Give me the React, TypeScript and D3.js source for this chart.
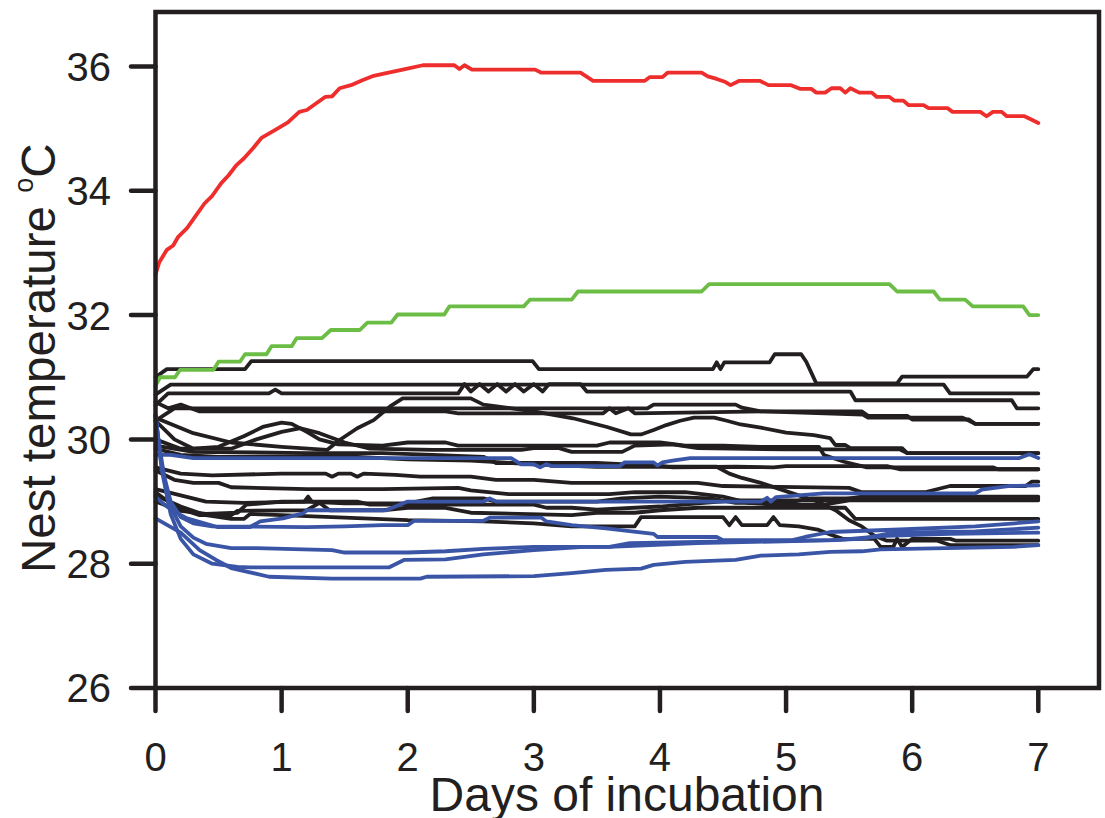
import React from "react";
import * as d3 from "d3";

type Pt = [number, number];

const xTicks = [0, 1, 2, 3, 4, 5, 6, 7];
const yTicks = [26, 28, 30, 32, 34, 36];
const xTitle = "Days of incubation";
const yTitle = "Nest temperature ";

// Red nest
const redNest: Pt[] = [[0,32.65],[0.03,32.85],[0.09,33.05],[0.14,33.12],[0.18,33.26],[0.25,33.4],[0.32,33.6],[0.39,33.8],[0.45,33.92],[0.52,34.12],[0.58,34.25],[0.64,34.41],[0.7,34.52],[0.775,34.69],[0.84,34.85],[0.95,34.98],[1.05,35.1],[1.14,35.27],[1.2,35.3],[1.345,35.51],[1.4,35.52],[1.46,35.65],[1.55,35.7],[1.64,35.78],[1.73,35.85],[1.82,35.89],[1.96,35.95],[2.12,36.02],[2.37,36.02],[2.41,35.96],[2.45,36.02],[2.51,35.95],[3.01,35.95],[3.06,35.9],[3.37,35.9],[3.47,35.77],[3.88,35.77],[3.92,35.83],[4.02,35.83],[4.06,35.9],[4.33,35.9],[4.38,35.84],[4.45,35.8],[4.52,35.75],[4.56,35.7],[4.63,35.77],[4.79,35.77],[4.86,35.7],[5.04,35.7],[5.11,35.64],[5.2,35.64],[5.24,35.58],[5.31,35.58],[5.36,35.65],[5.43,35.65],[5.47,35.58],[5.51,35.65],[5.58,35.58],[5.68,35.58],[5.72,35.51],[5.82,35.51],[5.86,35.45],[5.93,35.45],[5.97,35.38],[6.09,35.38],[6.13,35.33],[6.28,35.33],[6.32,35.27],[6.54,35.27],[6.59,35.2],[6.64,35.27],[6.71,35.27],[6.75,35.2],[6.89,35.2],[6.94,35.15],[7,35.09]];

// Green nest
const greenNest: Pt[] = [[0,30.86],[0.036,31.0],[0.155,31.0],[0.195,31.12],[0.46,31.12],[0.5,31.25],[0.67,31.25],[0.71,31.37],[0.88,31.37],[0.92,31.5],[1.08,31.5],[1.12,31.63],[1.32,31.63],[1.39,31.76],[1.62,31.76],[1.68,31.88],[1.87,31.88],[1.92,32.01],[2.29,32.01],[2.33,32.14],[2.92,32.14],[2.97,32.25],[3.3,32.25],[3.35,32.38],[4.33,32.38],[4.39,32.5],[5.82,32.5],[5.88,32.38],[6.17,32.38],[6.22,32.25],[6.42,32.25],[6.48,32.14],[6.88,32.14],[6.93,32.0],[7,32.0]];

// Black nests
const black1: Pt[] = [[0,31.0],[0.09,31.13],[0.71,31.13],[0.76,31.26],[2.99,31.26],[3.04,31.13],[4.42,31.13],[4.45,31.24],[4.48,31.13],[4.51,31.24],[4.87,31.24],[4.91,31.37],[5.12,31.37],[5.16,31.25],[5.24,30.9],[5.88,30.9],[5.92,31.01],[6.91,31.01],[6.96,31.13],[7,31.13]];
const black2: Pt[] = [[0,30.72],[0.12,30.88],[6.25,30.88],[6.3,30.74],[7,30.74]];
const black3: Pt[] = [[0,30.55],[0.1,30.74],[0.9,30.74],[0.95,30.8],[1.0,30.74],[2.4,30.74],[2.45,30.89],[2.5,30.77],[2.57,30.89],[2.64,30.77],[2.71,30.89],[2.78,30.77],[2.85,30.89],[2.92,30.77],[3.0,30.89],[3.07,30.77],[3.12,30.89],[3.37,30.89],[3.42,30.77],[5.51,30.77],[5.55,30.63],[6.79,30.63],[6.83,30.5],[7,30.5]];
const black4: Pt[] = [[0,30.3],[0.15,30.5],[3.9,30.5],[3.95,30.56],[4.6,30.56],[4.65,30.51],[4.8,30.45],[5.6,30.45],[5.65,30.38],[5.96,30.38],[6.0,30.32],[6.45,30.32],[6.5,30.25],[7,30.25]];
const black5: Pt[] = [[0,30.6],[0.1,30.5],[0.2,30.56],[0.28,30.5],[0.35,30.45],[2.3,30.45],[2.4,30.42],[3.55,30.42],[3.6,30.5],[3.65,30.42],[3.75,30.5],[3.8,30.42],[4.82,30.45],[5.61,30.4],[5.65,30.35],[6.4,30.35],[6.5,30.25],[7,30.25]];
const black6: Pt[] = [[0,30.35],[0.3,30.1],[0.6,29.95],[1.0,29.88],[1.36,29.83],[1.46,29.99],[1.6,30.18],[1.73,30.31],[1.86,30.53],[1.96,30.66],[2.5,30.66],[2.6,30.56],[3.0,30.45],[3.31,30.34],[3.58,30.2],[3.77,30.08],[3.85,30.08],[3.95,30.15],[4.05,30.23],[4.16,30.3],[4.27,30.35],[4.43,30.35],[4.53,30.3],[4.64,30.24],[4.8,30.19],[5.0,30.11],[5.22,30.07],[5.35,30.02],[5.39,29.91],[5.47,29.91],[5.51,29.86],[5.92,29.86],[5.96,29.78],[7,29.78]];
const black7: Pt[] = [[0,30.3],[0.15,30.0],[0.3,29.85],[0.5,29.88],[0.7,30.05],[0.85,30.2],[1.0,30.27],[1.08,30.25],[1.2,30.12],[1.3,30.0],[1.45,29.92],[1.8,29.9],[2.0,29.95],[2.3,29.95],[2.4,29.9],[3.5,29.9],[3.6,29.95],[4.0,29.95],[4.2,29.9],[4.5,29.9],[4.8,29.88],[5.26,29.88],[5.3,29.75],[5.46,29.64],[5.64,29.55],[6.64,29.55],[6.68,29.52],[7,29.52]];
const black8: Pt[] = [[0,30.0],[0.2,29.85],[0.6,29.85],[0.8,30.0],[1.0,30.12],[1.15,30.18],[1.3,30.1],[1.5,29.95],[1.7,29.85],[2.2,29.83],[2.9,29.83],[3.0,29.86],[3.2,29.86],[3.3,29.8],[3.7,29.8],[3.8,29.9],[4.1,29.92],[4.3,29.86],[5.0,29.84],[5.9,29.84],[5.96,29.78],[7,29.78]];
const black9: Pt[] = [[0,29.9],[0.3,29.8],[1.2,29.78],[1.8,29.78],[2.2,29.75],[2.6,29.72],[2.7,29.62],[3.5,29.62],[3.7,29.6],[3.9,29.6],[4.1,29.55],[4.6,29.56],[4.9,29.55],[5.0,29.57],[5.8,29.57],[5.9,29.52],[7,29.52]];
const black10: Pt[] = [[0,29.85],[0.2,29.75],[0.5,29.72],[1.6,29.72],[2.0,29.68],[2.5,29.66],[3.0,29.6],[3.5,29.56],[4.45,29.56],[4.55,29.45],[4.65,29.38],[4.8,29.3],[4.95,29.2],[5.1,29.1],[5.25,29.0],[5.4,28.85],[5.5,28.7],[5.6,28.6],[5.7,28.45],[5.8,28.37],[6.2,28.37],[6.3,28.3],[7,28.3]];
const black11: Pt[] = [[0,29.55],[0.2,29.45],[0.45,29.42],[1.0,29.45],[1.35,29.45],[1.4,29.4],[1.45,29.45],[1.55,29.45],[1.6,29.4],[1.65,29.45],[1.9,29.43],[2.1,29.4],[2.5,29.4],[2.7,29.35],[3.0,29.35],[3.3,29.3],[4.3,29.3],[4.5,29.25],[5.5,29.22],[5.6,29.15],[6.1,29.15],[6.3,29.25],[6.9,29.25],[6.95,29.32],[7,29.32]];
const black12: Pt[] = [[0,29.2],[0.2,29.1],[0.4,29.0],[0.7,28.98],[1.2,29.0],[1.5,28.97],[2.0,28.97],[2.2,29.05],[2.6,29.05],[2.7,29.0],[3.5,29.0],[3.7,29.05],[4.0,29.08],[4.4,29.05],[4.6,28.98],[5.0,28.98],[5.2,29.05],[7,29.05]];
const black13: Pt[] = [[0,29.5],[0.15,29.35],[0.3,29.3],[0.5,29.3],[0.6,29.23],[1.2,29.2],[1.8,29.2],[2.4,29.22],[2.5,29.18],[2.8,29.12],[3.6,29.12],[3.8,29.15],[4.2,29.15],[4.5,29.08],[4.7,28.98],[4.9,28.95],[5.3,28.95],[5.5,29.02],[7,29.02]];
const black14: Pt[] = [[0,29.0],[0.2,28.85],[0.4,28.8],[0.65,28.82],[0.72,28.95],[1.0,29.0],[1.18,29.0],[1.21,29.08],[1.24,29.0],[1.6,29.0],[1.7,28.95],[3.0,28.95],[3.1,28.9],[3.3,28.9],[3.5,28.87],[4.0,28.92],[4.3,28.97],[4.6,29.02],[5.4,29.02],[5.6,29.08],[7,29.08]];
const black15: Pt[] = [[0,29.15],[0.1,29.0],[0.2,28.88],[0.35,28.78],[0.6,28.78],[0.65,28.85],[1.2,28.86],[1.3,28.98],[1.38,28.86],[1.8,28.86],[2.0,28.9],[2.3,28.9],[2.5,28.82],[3.3,28.78],[3.5,28.82],[3.8,28.82],[4.0,28.86],[4.3,28.9],[5.3,28.9],[5.47,28.9],[5.55,28.72],[7,28.72]];
const black16: Pt[] = [[0,29.1],[0.2,28.92],[0.4,28.78],[0.6,28.72],[0.7,28.72],[0.75,28.8],[1.0,28.78],[1.5,28.74],[2.0,28.7],[2.6,28.68],[3.0,28.65],[3.3,28.6],[3.8,28.6],[3.85,28.75],[4.5,28.75],[4.55,28.62],[4.6,28.75],[4.65,28.62],[4.85,28.62],[4.9,28.75],[4.95,28.62],[5.1,28.6],[5.25,28.55],[5.35,28.47],[5.45,28.4],[5.7,28.4],[5.75,28.27],[5.85,28.27],[5.88,28.4],[5.92,28.27],[6.0,28.4],[6.3,28.4],[6.35,28.37],[7,28.37]];

// Blue nests
const blue1: Pt[] = [[0,29.75],[0.12,29.75],[0.3,29.7],[2.82,29.7],[2.9,29.6],[3.0,29.6],[3.05,29.55],[3.1,29.6],[3.14,29.57],[3.68,29.57],[3.72,29.63],[3.95,29.63],[3.98,29.58],[4.02,29.63],[4.1,29.66],[4.24,29.7],[6.85,29.7],[6.93,29.76],[7,29.7]];
const blue2: Pt[] = [[0,29.08],[0.07,28.95],[0.14,28.85],[0.25,28.73],[0.49,28.59],[0.75,28.59],[0.83,28.68],[1.01,28.73],[1.17,28.81],[1.2,28.86],[1.83,28.86],[1.96,28.97],[2.0,29.0],[2.6,29.0],[2.65,29.05],[2.7,29.0],[4.8,29.0],[4.85,29.06],[4.88,29.0],[4.92,29.07],[5.3,29.13],[6.5,29.13],[6.55,29.19],[6.76,29.25],[7,29.26]];
const blue3: Pt[] = [[0,30.39],[0.03,29.9],[0.07,29.4],[0.12,29.0],[0.2,28.75],[0.3,28.65],[0.45,28.6],[1.2,28.59],[1.5,28.6],[1.8,28.62],[2.0,28.62],[2.05,28.69],[2.6,28.69],[2.65,28.74],[3.06,28.74],[3.1,28.68],[3.3,28.62],[3.57,28.57],[3.69,28.54],[3.95,28.48],[3.98,28.43],[4.45,28.43],[4.5,28.38],[5.05,28.38],[5.15,28.43],[5.35,28.51],[5.9,28.55],[6.5,28.6],[7,28.68]];
const blue4: Pt[] = [[0,30.39],[0.04,29.7],[0.1,29.0],[0.2,28.6],[0.3,28.42],[0.4,28.32],[0.6,28.25],[0.8,28.25],[1.4,28.22],[1.5,28.18],[2.0,28.18],[2.3,28.2],[2.6,28.24],[3.0,28.27],[3.6,28.27],[3.76,28.33],[4.3,28.35],[5.35,28.38],[5.6,28.4],[5.85,28.5],[6.5,28.52],[7,28.58]];
const blue5: Pt[] = [[0,30.39],[0.05,29.5],[0.12,28.8],[0.2,28.4],[0.3,28.15],[0.45,28.0],[0.65,27.95],[0.75,27.94],[1.85,27.94],[1.97,28.06],[2.3,28.07],[2.6,28.15],[3.0,28.22],[3.4,28.27],[3.6,28.27],[4.3,28.33],[5.4,28.38],[5.8,28.45],[6.3,28.48],[7,28.5]];
const blue6: Pt[] = [[0,28.73],[0.2,28.5],[0.35,28.22],[0.48,28.06],[0.6,27.93],[0.9,27.79],[1.4,27.76],[2.1,27.76],[2.15,27.79],[3.0,27.8],[3.3,27.85],[3.57,27.9],[3.85,27.92],[3.95,27.98],[4.2,28.03],[4.6,28.06],[4.8,28.13],[5.1,28.15],[5.35,28.19],[5.6,28.2],[5.75,28.23],[6.8,28.27],[7,28.3]];

const blackNests = [black1, black2, black3, black4, black5, black6, black7, black8, black9, black10, black11, black12, black13, black14, black15, black16];
const blueNests = [blue1, blue2, blue3, blue4, blue5, blue6];

const W = 1105;
const H = 818;
const INK = "#231f20";
const FONT = "'Liberation Sans', Arial, Helvetica, sans-serif";

export default function App() {
  const x = d3.scaleLinear().domain([0, 7]).range([155.5, 1038.3]);
  const y = d3.scaleLinear().domain([26, 36]).range([688, 66.5]);
  const frameLeft = 155.5, frameRight = 1099, frameTop = 12, frameBottom = 688;
  const line = d3.line<Pt>().x((d) => x(d[0])).y((d) => y(d[1]));

  return (
    <svg width={W} height={H} style={{ position: "absolute", left: 0, top: 0, background: "#fff" }} fontFamily={FONT}>
      <rect x={0} y={0} width={W} height={H} fill="#fff" />
      <g fill="none" strokeLinejoin="round" strokeLinecap="round">
        {blackNests.map((s, i) => (
          <path key={"k" + i} d={line(s) || ""} stroke={INK} strokeWidth={3.8} />
        ))}
        {blueNests.map((s, i) => (
          <path key={"b" + i} d={line(s) || ""} stroke="#3a55a6" strokeWidth={3.8} />
        ))}
        <path d={line(greenNest) || ""} stroke="#6cbd45" strokeWidth={3.8} />
        <path d={line(redNest) || ""} stroke="#ee2d2d" strokeWidth={3.8} />
      </g>
      <path
        d={`M${frameLeft},${frameTop}H${frameRight}V${frameBottom}H${frameLeft}Z`}
        fill="none"
        stroke={INK}
        strokeWidth={4.5}
        strokeLinejoin="miter"
      />
      {yTicks.map((t) => (
        <g key={"y" + t}>
          <line x1={131} x2={frameLeft} y1={y(t)} y2={y(t)} stroke={INK} strokeWidth={4.5} strokeLinecap="round" />
          <text x={111} y={y(t)} dy="0.36em" textAnchor="end" fontSize={40} fill={INK}>
            {t}
          </text>
        </g>
      ))}
      {xTicks.map((t) => (
        <g key={"x" + t}>
          <line x1={x(t)} x2={x(t)} y1={frameBottom} y2={711} stroke={INK} strokeWidth={4.5} strokeLinecap="round" />
          <text x={x(t)} y={771} textAnchor="middle" fontSize={40} fill={INK}>
            {t}
          </text>
        </g>
      ))}
      <text x={627} y={811} textAnchor="middle" fontSize={48} fill={INK}>
        {xTitle}
      </text>
      <text transform="translate(55,573) rotate(-90)" fontSize={47.5} fill={INK}>
        {yTitle}
        <tspan fontSize={27} dy={-22}>o</tspan>
        <tspan dy={22}>C</tspan>
      </text>
    </svg>
  );
}
